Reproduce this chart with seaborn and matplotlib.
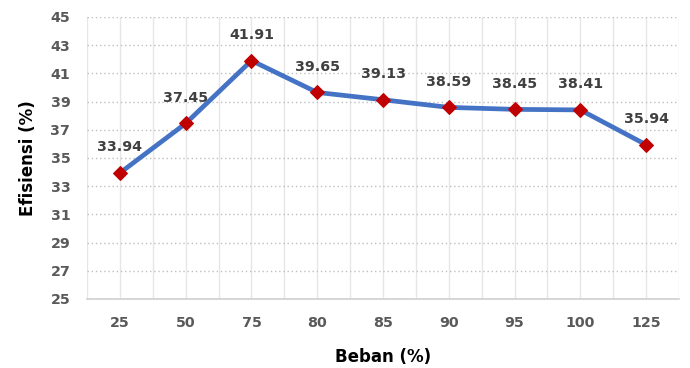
import numpy as np
import pandas as pd
import matplotlib
matplotlib.use("Agg")
import matplotlib.pyplot as plt
from matplotlib.ticker import FixedLocator
import seaborn as sns

beban = ["25", "50", "75", "80", "85", "90", "95", "100", "125"]
efisiensi = [33.94, 37.45, 41.91, 39.65, 39.13, 38.59, 38.45, 38.41, 35.94]
y_ticks = [25, 27, 29, 31, 33, 35, 37, 39, 41, 43, 45]

sns.set_theme(style="white")
plt.rcParams["font.family"] = ["DejaVu Sans"]

df = pd.DataFrame({"pos": np.arange(len(beban)), "eff": efisiensi})

fig = plt.figure(figsize=(6.9, 3.68), dpi=100)
ax = fig.add_axes([87 / 690, 1 - 299 / 368, (679 - 87) / 690, (299 - 17) / 368])

sns.lineplot(data=df, x="pos", y="eff", ax=ax, color="#4472C4", linewidth=3.4,
             marker="D", markersize=7.5, markerfacecolor="#C00000",
             markeredgecolor="#C00000", zorder=3)

for xi, yi in zip(df["pos"], df["eff"]):
    ax.annotate(f"{yi:.2f}", (xi, yi), xytext=(0, 18.5), textcoords="offset points",
                ha="center", va="center", fontsize=10.3, fontweight="bold",
                color="#404040", zorder=4)

ax.set_xlim(-0.5, len(beban) - 0.5)
ax.set_ylim(25, 45)
ax.set_xticks(np.arange(len(beban)))
ax.set_xticklabels(beban)
ax.set_yticks(y_ticks)
ax.xaxis.set_minor_locator(FixedLocator(np.arange(-0.5, len(beban), 1.0)))

ax.grid(axis="x", which="both", color="#E6E6E6", linewidth=1.0, linestyle="-")
ax.grid(axis="y", which="major", color="#BFBFBF", linewidth=1.0, linestyle=(0, (1, 2)))
ax.set_axisbelow(True)

for side in ["top", "right", "left"]:
    ax.spines[side].set_visible(False)
ax.spines["bottom"].set_color("#D0D0D0")
ax.spines["bottom"].set_linewidth(1.2)

ax.tick_params(axis="both", which="both", length=0, labelsize=10.3, labelcolor="#595959")
ax.tick_params(axis="x", pad=12)
ax.tick_params(axis="y", pad=12)
for lab in ax.get_xticklabels() + ax.get_yticklabels():
    lab.set_fontweight("bold")

ax.set_xlabel("Beban (%)", fontsize=12, fontweight="bold", color="black", labelpad=13)
ax.set_ylabel("Efisiensi (%)", fontsize=12, fontweight="bold", color="black", labelpad=10)

fig.savefig("out.png", dpi=100)
